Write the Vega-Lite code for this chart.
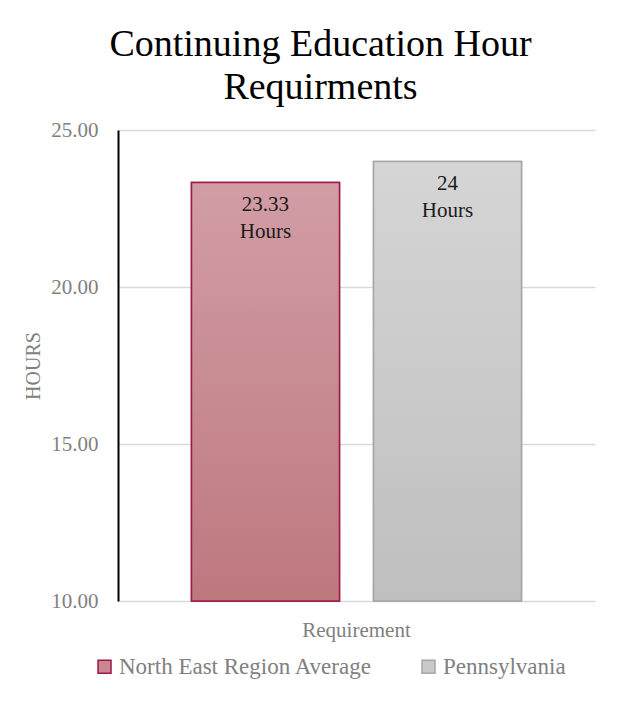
{
  "$schema": "https://vega.github.io/schema/vega-lite/v6.json",
  "width": 477,
  "height": 471,
  "autosize": {"type": "none"},
  "padding": {"left": 118, "top": 130, "right": 26, "bottom": 116},
  "background": "white",
  "title": {
    "text": ["Continuing Education Hour", "Requirments"],
    "font": "Liberation Serif",
    "fontSize": 38,
    "fontWeight": "normal",
    "color": "#000000",
    "lineHeight": 43,
    "anchor": "middle",
    "dx": -36,
    "offset": 12
  },
  "config": {
    "font": "Liberation Serif",
    "view": {"stroke": null},
    "axis": {"labelFont": "Liberation Serif", "titleFont": "Liberation Serif", "labelColor": "#808080", "titleColor": "#808080"},
    "legend": {"labelFont": "Liberation Serif", "titleFont": "Liberation Serif"},
    "text": {"font": "Liberation Serif"}
  },
  "data": {
    "values": [
      {"category": "Requirement", "series": "North East Region Average", "hours": 23.33, "label": "23.33\nHours"},
      {"category": "Requirement", "series": "Pennsylvania", "hours": 24, "label": "24\nHours"}
    ]
  },
  "encoding": {
    "x": {
      "field": "category",
      "type": "nominal",
      "scale": {"paddingInner": 0, "paddingOuter": 0.2227},
      "axis": {"title": null, "labelAngle": 0, "domain": false, "ticks": false, "labelPadding": 18, "labelFontSize": 21, "labelFont": "Liberation Serif"}
    },
    "xOffset": {
      "field": "series",
      "type": "nominal",
      "sort": ["North East Region Average", "Pennsylvania"],
      "scale": {"paddingInner": 0.187, "paddingOuter": 0}
    },
    "y": {
      "field": "hours",
      "type": "quantitative",
      "scale": {"domain": [10, 25], "nice": false, "zero": false},
      "axis": {
        "title": "HOURS",
        "values": [10, 15, 20, 25],
        "format": ".2f",
        "domainColor": "#000000",
        "domainWidth": 2,
        "ticks": false,
        "gridColor": "#d9d9d9",
        "gridWidth": 1.5,
        "labelPadding": 20,
        "labelFontSize": 21,
        "labelFont": "Liberation Serif",
        "titleFont": "Liberation Serif",
        "titleFontSize": 20,
        "titleFontWeight": "normal",
        "titlePadding": 7
      }
    }
  },
  "layer": [
    {
      "mark": {"type": "bar", "strokeWidth": 1.5},
      "encoding": {
        "y2": {"datum": 10},
        "fill": {
          "field": "series",
          "type": "nominal",
          "scale": {"domain": ["North East Region Average", "Pennsylvania"], "range": ["#c98890", "#c9c9c9"]},
          "legend": {
            "orient": "none",
            "legendX": -25,
            "legendY": 525,
            "direction": "horizontal",
            "title": null,
            "symbolType": "square",
            "symbolSize": 169,
            "symbolStrokeWidth": 1.5,
            "labelFont": "Liberation Serif",
            "labelFontSize": 23,
            "labelColor": "#808080",
            "labelLimit": 400,
            "columnPadding": 44,
            "labelOffset": 3
          }
        },
        "stroke": {
          "field": "series",
          "type": "nominal",
          "scale": {"domain": ["North East Region Average", "Pennsylvania"], "range": ["#9e1a46", "#a6a6a6"]},
          "legend": {
            "orient": "none",
            "legendX": -25,
            "legendY": 525,
            "direction": "horizontal",
            "title": null,
            "symbolType": "square",
            "symbolSize": 169,
            "symbolStrokeWidth": 1.5,
            "labelFont": "Liberation Serif",
            "labelFontSize": 23,
            "labelColor": "#808080",
            "labelLimit": 400,
            "columnPadding": 44,
            "labelOffset": 3
          }
        }
      }
    },
    {
      "transform": [{"filter": "datum.series === 'North East Region Average'"}],
      "mark": {
        "type": "bar",
        "stroke": "#9e1a46",
        "strokeWidth": 1.5,
        "fill": {"gradient": "linear", "x1": 0, "y1": 0, "x2": 0, "y2": 1, "stops": [{"offset": 0, "color": "#d29da5"}, {"offset": 1, "color": "#bd787e"}]}
      },
      "encoding": {"y2": {"datum": 10}}
    },
    {
      "transform": [{"filter": "datum.series === 'Pennsylvania'"}],
      "mark": {
        "type": "bar",
        "stroke": "#a6a6a6",
        "strokeWidth": 1.5,
        "fill": {"gradient": "linear", "x1": 0, "y1": 0, "x2": 0, "y2": 1, "stops": [{"offset": 0, "color": "#d5d5d5"}, {"offset": 1, "color": "#bfbfbf"}]}
      },
      "encoding": {"y2": {"datum": 10}}
    },
    {
      "mark": {"type": "text", "baseline": "top", "dy": 12, "font": "Liberation Serif", "fontSize": 21, "color": "#1a1a1a", "lineBreak": "\n", "lineHeight": 27},
      "encoding": {"text": {"field": "label"}}
    }
  ]
}
